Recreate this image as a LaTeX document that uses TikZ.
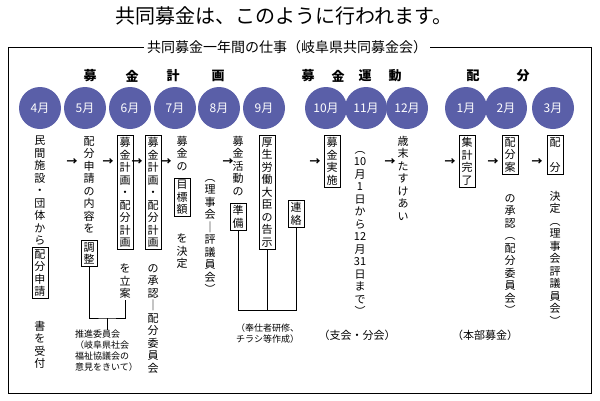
\documentclass[tikz,border=0pt]{standalone}
\usepackage{fontspec}
\setmainfont{Noto Sans CJK JP}
\usetikzlibrary{positioning}
\definecolor{monthblue}{RGB}{90,95,168}
% vertical text: one character per row
\def\vtstopmac{\vtstop}
\def\vtloop#1{\def\vtarg{#1}\ifx\vtarg\vtstopmac\else\hbox to 12pt{\hss#1\hss}\expandafter\vtloop\fi}
\newcommand\vt[1]{\vbox{\baselineskip=12.5pt\lineskiplimit=-20pt\vtloop#1\vtstop}}
\begin{document}
\begin{tikzpicture}[x=1pt,y=-1pt,
    every node/.style={font=\fontsize{11}{12.5}\selectfont},
    vtext/.style={inner sep=1pt, anchor=north},
    vframe/.style={vtext, draw, thick, inner sep=2pt},
    month/.style={circle, fill=monthblue, text=white, minimum size=42pt, inner sep=0pt, font=\fontsize{12}{12}\selectfont},
    arr/.style={inner sep=0pt, font=\fontsize{11}{11}\selectfont\bfseries},
    head/.style={font=\fontsize{13}{13}\selectfont\bfseries},
    note/.style={inner sep=0pt, font=\fontsize{9}{11}\selectfont, align=left}]
    \useasboundingbox (0,0) rectangle (600,400);

    % Title and frame
    \node[font=\fontsize{20}{20}\selectfont] (title) at (284,16) {共同募金は、このように行われます。};
    \draw[thick] (8,47) rectangle (591,393);
    \node[fill=white, inner sep=3pt, font=\fontsize{14}{14}\selectfont] (frametitle) at (287,47) {共同募金一年間の仕事（岐阜県共同募金会）};

    % Section headings
    \foreach \ch/\x in {募/90, 金/132, 計/173, 画/218, 募/308, 金/338, 運/365, 動/395, 配/473, 分/523}
        \node[head] at (\x,76) {\ch};

    % Months
    \foreach \m/\x in {4/40, 5/85, 6/130, 7/175, 8/219, 9/264, 10/326, 11/366, 12/407, 1/466, 2/506, 3/553}
        \node[month] (m\m) at (\x,108) {\m 月};

    % --- April ---
    \node[vtext] (apr1) at (40,135) {\vt{民間施設・団体から}};
    \node[vframe] (apr2) at (40,247) {\vt{配分申請}};
    \node[vtext] (apr3) at (40,320) {\vt{書を受付}};

    % --- May ---
    \node[arr] (a1) at (72,162) {→};
    \node[vtext] (may1) at (89,135) {\vt{配分申請の内容を}};
    \node[vframe] (may2) at (89,240) {\vt{調整}};
    \node[arr] (a2) at (108,162) {→};
    \node[vframe] (may3) at (125,135) {\vt{募金計画・配分計画}};
    \node[vtext] (may4) at (125,263) {\vt{を立案}};
    \coordinate (mayj) at (107,318);
    \draw (may2.south) |- (mayj) -| (may4.south);
    \node[note, anchor=north west] (may5) at (75,330) {推進委員会\\（岐阜県社会\\福祉協議会の\\意見をきいて）};
    \draw (mayj) -- (may5.north -| mayj);

    % --- June / July ---
    \node[arr] (a3) at (137,162) {→};
    \node[vframe] (jun1) at (153,135) {\vt{募金計画・配分計画}};
    \node[vtext] (jun2) at (153,263) {\vt{の承認｜配分委員会}};
    \node[arr] (a4) at (166,162) {→};
    \node[vtext] (jul1) at (182,135) {\vt{募金の}};
    \node[vframe] (jul2) at (182,178) {\vt{目標額}};
    \node[vtext] (jul3) at (182,233) {\vt{を決定}};
    \node[vtext] (aug1) at (210,178) {\vt{︵理事会｜評議員会︶}};

    % --- September ---
    \node[arr] (a5) at (228,162) {→};
    \node[vtext] (sep1) at (238,135) {\vt{募金活動の}};
    \node[vframe] (sep2) at (238,203) {\vt{準備}};
    \node[vframe] (sep3) at (267,135) {\vt{厚生労働大臣の告示}};
    \node[vframe] (sep4) at (296,200) {\vt{連絡}};
    \draw (sep2.south) |- (296,310) -- (sep4.south);
    \draw (sep3.south) -- (267,310);
    \node[note, anchor=north west] (sep5) at (236,324) {（奉仕者研修、\\チラシ等作成）};

    % --- October to December ---
    \node[arr] (a6) at (315,162) {→};
    \node[vframe] (oct1) at (332,135) {\vt{募金実施}};
    \node[vtext] (nov1) at (360,150) {\vt{︵{10}月1日から{12}月{31}日まで︶}};
    \node[arr] (a7) at (390,162) {→};
    \node[vtext] (dec1) at (403,135) {\vt{歳末たすけあい}};
    \node[font=\fontsize{11}{12}\selectfont] (branch) at (357,335) {（支会・分会）};

    % --- January to March ---
    \node[arr] (a8) at (450,162) {→};
    \node[vframe] (jan1) at (467,135) {\vt{集計完了}};
    \node[arr] (a9) at (493,162) {→};
    \node[vframe] (feb1) at (510,135) {\vt{配分案}};
    \node[vtext] (feb2) at (510,193) {\vt{の承認︵配分委員会︶}};
    \node[arr] (a10) at (537,162) {→};
    \node[vframe] (mar1) at (555,135) {\vt{配\ 分}};
    \node[vtext] (mar2) at (555,190) {\vt{決定︵理事会評議員会︶}};
    \node[font=\fontsize{11}{12}\selectfont] (hq) at (485,335) {（本部募金）};
\end{tikzpicture}
\end{document}
